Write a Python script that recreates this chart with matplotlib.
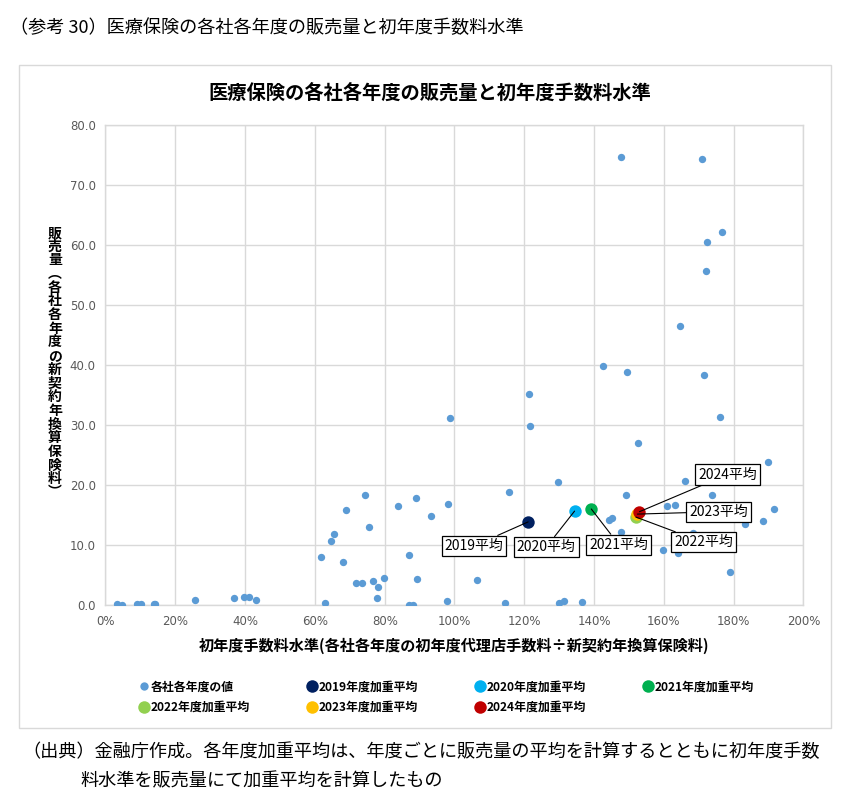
import matplotlib
matplotlib.use("Agg")
import matplotlib.pyplot as plt
from matplotlib.lines import Line2D
from matplotlib.patches import Rectangle
from matplotlib.ticker import FuncFormatter

plt.rcParams['font.family'] = ['Noto Sans CJK JP', 'DejaVu Sans']

# ---- data: each company / each fiscal year (x = first-year commission level, y = sales) ----
company_x = [0.034, 0.047, 0.090, 0.103, 0.138, 0.142, 0.256, 0.367, 0.397, 0.411, 0.432,
             0.617, 0.629, 0.646, 0.655, 0.689, 0.681, 0.744, 0.756, 0.719, 0.735, 0.767,
             0.781, 0.798, 0.777, 0.839, 0.890, 0.932, 0.981, 0.871, 0.893, 0.869, 0.882,
             0.979, 0.986, 1.064, 1.145, 1.155, 1.213, 1.216, 1.221, 1.297, 1.300, 1.315,
             1.364, 1.425, 1.494, 1.525, 1.490, 1.444, 1.452, 1.476, 1.597, 1.641, 1.609,
             1.632, 1.660, 1.684, 1.715, 1.739, 1.761, 1.757, 1.790, 1.833, 1.885, 1.897,
             1.915, 1.477, 1.708, 1.766, 1.723, 1.721, 1.645]
company_y = [0.2, 0.05, 0.3, 0.2, 0.3, 0.3, 0.9, 1.2, 1.4, 1.4, 0.9,
             8.0, 0.4, 10.8, 11.9, 15.9, 7.2, 18.4, 13.1, 3.8, 3.8, 4.0,
             3.1, 4.6, 1.3, 16.5, 17.8, 14.9, 16.9, 8.4, 4.4, 0.05, 0.05,
             0.8, 31.2, 4.3, 0.4, 18.9, 35.3, 29.9, 10.8, 20.6, 0.4, 0.7,
             0.55, 39.9, 38.9, 27.1, 18.4, 14.2, 14.5, 12.2, 9.2, 8.8, 16.5,
             16.7, 20.7, 12.1, 38.4, 18.3, 31.4, 11.8, 5.5, 13.5, 14.1, 23.8,
             16.0, 74.8, 74.4, 62.2, 60.5, 55.8, 46.5]

avg_years = ['2019', '2020', '2021', '2022', '2023', '2024']
avg_x = [1.211, 1.344, 1.392, 1.520, 1.524, 1.530]
avg_y = [13.9, 15.7, 16.05, 14.7, 15.2, 15.6]
avg_colors = ['#002060', '#00B0F0', '#00B050', '#92D050', '#FFC000', '#C00000']
label_x = [1.056, 1.263, 1.471, 1.713, 1.757, 1.782]
label_y = [9.9, 9.7, 10.1, 10.5, 15.6, 21.8]

x_ticks = [0, 0.2, 0.4, 0.6, 0.8, 1.0, 1.2, 1.4, 1.6, 1.8, 2.0]
y_ticks = [0, 10, 20, 30, 40, 50, 60, 70, 80]

W, H = 841, 806
fig = plt.figure(figsize=(W / 100, H / 100), dpi=100)
fig.patch.set_facecolor('white')

# chart frame
fig.patches.append(Rectangle((19 / W, 1 - 728 / H), (831 - 19) / W, (728 - 65) / H,
                             transform=fig.transFigure, facecolor='white',
                             edgecolor='#D9D9D9', linewidth=1.0, zorder=-5))

ax = fig.add_axes([105.5 / W, 1 - 605.3 / H, (803.5 - 105.5) / W, (605.3 - 125.3) / H])
ax.set_zorder(2)
ax.patch.set_alpha(0)
ax.set_xlim(0, 2.0)
ax.set_ylim(0, 80)
ax.set_xticks(x_ticks)
ax.set_yticks(y_ticks)
ax.xaxis.set_major_formatter(FuncFormatter(lambda v, p: f"{v * 100:.0f}%"))
ax.yaxis.set_major_formatter(FuncFormatter(lambda v, p: f"{v:.1f}"))
ax.grid(True, color='#D9D9D9', linewidth=1.0, zorder=0)
ax.set_axisbelow(True)
for s in ax.spines.values():
    s.set_color('#D9D9D9')
    s.set_linewidth(1.0)
ax.tick_params(length=0, labelsize=8.5, labelcolor='#595959', pad=7)
for lab in ax.get_xticklabels() + ax.get_yticklabels():
    lab.set_family(['DejaVu Sans'])

ax.scatter(company_x, company_y, s=28, color='#5B9BD5', zorder=3, linewidths=0)
for i in range(len(avg_years)):
    ax.scatter([avg_x[i]], [avg_y[i]], s=80, color=avg_colors[i], zorder=4, linewidths=0)
    ax.annotate(f"{avg_years[i]}平均", xy=(avg_x[i], avg_y[i]),
                xytext=(label_x[i], label_y[i]), ha='center', va='center',
                fontsize=10, color='black', zorder=5,
                bbox=dict(boxstyle='square,pad=0.22', facecolor='white',
                          edgecolor='black', linewidth=0.9),
                arrowprops=dict(arrowstyle='-', color='black', linewidth=0.8,
                                shrinkA=0, shrinkB=0))

# titles / labels
fig.text(10 / W, 1 - 28 / H, "（参考 30）医療保険の各社各年度の販売量と初年度手数料水準",
         fontsize=13.1, ha='left', va='center')
fig.text(430 / W, 1 - 93 / H, "医療保険の各社各年度の販売量と初年度手数料水準",
         fontsize=13.9, fontweight='bold', ha='center', va='center')
fig.text(454 / W, 1 - 646 / H,
         "初年度手数料水準(各社各年度の初年度代理店手数料÷新契約年換算保険料)",
         fontsize=10.9, fontweight='bold', ha='center', va='center')
ylab = "販売量︵各社各年度の新契約年換算保険料︶"
fig.text(55 / W, 1 - 363 / H, "\n".join(ylab), fontsize=10, fontweight='bold',
         ha='center', va='center', linespacing=0.97)

# legend
comp_h = Line2D([], [], marker='o', linestyle='none', markersize=6,
                markerfacecolor='#5B9BD5', markeredgewidth=0, label='各社各年度の値')
avg_h = [Line2D([], [], marker='o', linestyle='none', markersize=9,
                markerfacecolor=avg_colors[i], markeredgewidth=0,
                label=f"{avg_years[i]}年度加重平均") for i in range(len(avg_years))]
order = [comp_h, avg_h[3], avg_h[0], avg_h[4], avg_h[1], avg_h[5], avg_h[2]]
leg = fig.legend(handles=order, ncol=4, loc='center',
                 bbox_to_anchor=(446 / W, 1 - 697 / H), frameon=False,
                 prop={'size': 8.6, 'weight': 'bold'}, handletextpad=0.0,
                 columnspacing=4.75, handlelength=1.0, labelspacing=0.62,
                 borderaxespad=0)

# footnote
fig.text(22 / W, 1 - 752 / H,
         "（出典）金融庁作成。各年度加重平均は、年度ごとに販売量の平均を計算するとともに初年度手数",
         fontsize=13.1, ha='left', va='center')
fig.text(80 / W, 1 - 781 / H, "料水準を販売量にて加重平均を計算したもの",
         fontsize=13.1, ha='left', va='center')

fig.savefig("out.png", dpi=100, facecolor='white')
